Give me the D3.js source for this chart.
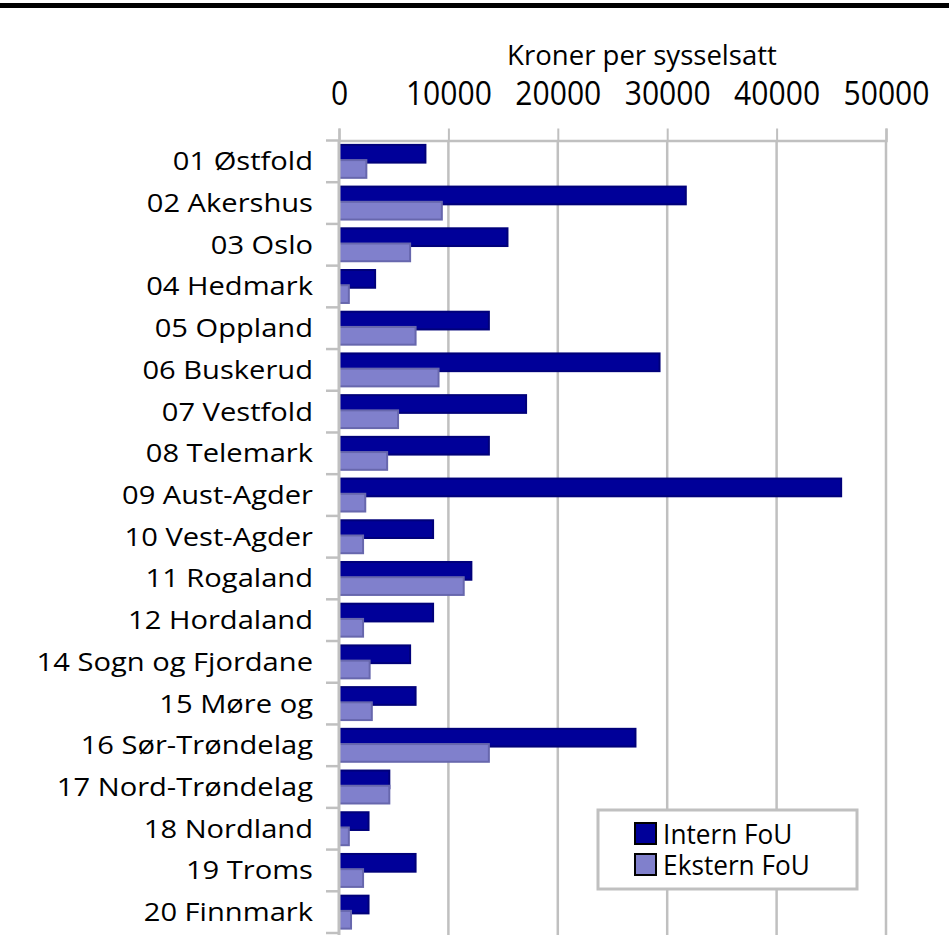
<!DOCTYPE html>
<html>
<head>
<meta charset="utf-8">
<script src="https://cdn.jsdelivr.net/npm/d3@7"></script>
<style>
	body { margin: 0; background: #fff; }
	text { font-family: "Open Sans", sans-serif; fill: #000; }
</style>
</head>
<body>
<div class="canvas"></div>
<script>
// data
const fylker = ['01 Østfold', '02 Akershus', '03 Oslo', '04 Hedmark', '05 Oppland',
	'06 Buskerud', '07 Vestfold', '08 Telemark', '09 Aust-Agder', '10 Vest-Agder',
	'11 Rogaland', '12 Hordaland', '14 Sogn og Fjordane', '15 Møre og',
	'16 Sør-Trøndelag', '17 Nord-Trøndelag', '18 Nordland', '19 Troms', '20 Finnmark'];
const series = ['Intern FoU', 'Ekstern FoU'];
const intern = [7900, 31700, 15400, 3300, 13700, 29300, 17100, 13700, 45900, 8600,
	12100, 8600, 6500, 7000, 27100, 4600, 2700, 7000, 2700];
const ekstern = [2500, 9400, 6500, 900, 7000, 9100, 5400, 4400, 2400, 2200,
	11400, 2200, 2800, 3000, 13700, 4600, 900, 2200, 1100];
const xTicks = [0, 10000, 20000, 30000, 40000, 50000];
const axisTitle = 'Kroner per sysselsatt';

const dims = { width: 949, height: 946 };
const plot = { left: 339, right: 886, top: 140.5, bottom: 933 };
const colour = d3.scaleOrdinal().domain(series).range(['#000099', '#8080cc']);
const edge = d3.scaleOrdinal().domain(series).range(['#00007a', '#6767ad']);
const grey = '#c0c0c0';

const data = fylker.map((name, i) => ({ name, values: [
	{ key: series[0], value: intern[i] },
	{ key: series[1], value: ekstern[i] }
]}));

const svg = d3.select('.canvas').append('svg')
	.attr('width', dims.width)
	.attr('height', dims.height);

// black rule at the very top
svg.append('rect')
	.attr('x', 0).attr('y', 3)
	.attr('width', dims.width).attr('height', 5)
	.attr('fill', '#000');

const x = d3.scaleLinear()
	.domain([0, 50000])
	.range([plot.left, plot.right]);

const y = d3.scaleBand()
	.domain(fylker)
	.range([plot.top, plot.bottom]);

// two bars per band, Excel style overlap
const inner = d3.scaleBand()
	.domain(series)
	.range([0, y.bandwidth()])
	.paddingOuter(0.37);
const barH = inner.step() * 1.165;
const shift = (barH - inner.step()) / 2;

// gridlines
svg.append('g').selectAll('line')
	.data(xTicks.slice(1))
	.enter().append('line')
	.attr('x1', d => x(d)).attr('x2', d => x(d))
	.attr('y1', plot.top).attr('y2', plot.bottom + 2)
	.attr('stroke', grey).attr('stroke-width', 2.5);

// top axis
const xAxis = d3.axisTop(x)
	.tickValues(xTicks)
	.tickSize(12)
	.tickPadding(24)
	.tickFormat(d3.format('d'));

const xg = svg.append('g')
	.attr('transform', `translate(0, ${plot.top})`)
	.call(xAxis);
xg.select('.domain').attr('stroke', grey).attr('stroke-width', 2.5);
xg.selectAll('.tick line').attr('stroke', grey).attr('stroke-width', 2);
xg.selectAll('.tick text')
	.attr('font-family', '"Open Sans", sans-serif')
	.attr('font-size', 32)
	.attr('transform', 'scale(0.94,1)');

svg.append('text')
	.attr('x', 642)
	.attr('y', 65)
	.attr('text-anchor', 'middle')
	.attr('font-size', 27)
	.attr('transform', 'translate(642,0) scale(1.02,1) translate(-642,0)')
	.text(axisTitle);

// bars
const groups = svg.append('g').selectAll('g')
	.data(data)
	.enter().append('g')
	.attr('transform', d => `translate(0, ${y(d.name)})`);

groups.selectAll('rect')
	.data(d => d.values)
	.enter().append('rect')
	.attr('x', x(0))
	.attr('y', d => inner(d.key) - shift)
	.attr('width', d => x(d.value) - x(0))
	.attr('height', barH)
	.attr('fill', d => colour(d.key))
	.attr('stroke', d => edge(d.key))
	.attr('stroke-width', 2);

// left axis line and boundary ticks
svg.append('line')
	.attr('x1', x(0)).attr('x2', x(0))
	.attr('y1', plot.top).attr('y2', plot.bottom + 2)
	.attr('stroke', grey).attr('stroke-width', 3);

const bounds = fylker.map(f => y(f)).concat([plot.bottom]);
svg.append('g').selectAll('line')
	.data(bounds)
	.enter().append('line')
	.attr('x1', x(0) - 13).attr('x2', x(0))
	.attr('y1', d => d).attr('y2', d => d)
	.attr('stroke', grey).attr('stroke-width', 2.5);

// category labels
svg.append('g').selectAll('text')
	.data(fylker)
	.enter().append('text')
	.attr('y', d => y(d) + y.bandwidth() / 2 + 9)
	.attr('text-anchor', 'end')
	.attr('font-size', 26)
	.attr('transform', 'translate(313,0) scale(1.12,1)')
	.text(d => d);

// legend
const legend = svg.append('g').attr('transform', 'translate(598, 810)');
legend.append('rect')
	.attr('width', 259).attr('height', 79)
	.attr('fill', '#fff')
	.attr('stroke', grey).attr('stroke-width', 3);

const items = legend.selectAll('g')
	.data(series)
	.enter().append('g')
	.attr('transform', (d, i) => `translate(37, ${13 + i * 31})`);

items.append('rect')
	.attr('width', 21).attr('height', 21)
	.attr('fill', d => colour(d))
	.attr('stroke', '#000').attr('stroke-width', 2);

items.append('text')
	.attr('x', 29)
	.attr('y', 21)
	.attr('font-size', 27)
	.attr('transform', 'scale(0.97,1)')
	.text(d => d);
</script>
</body>
</html>
